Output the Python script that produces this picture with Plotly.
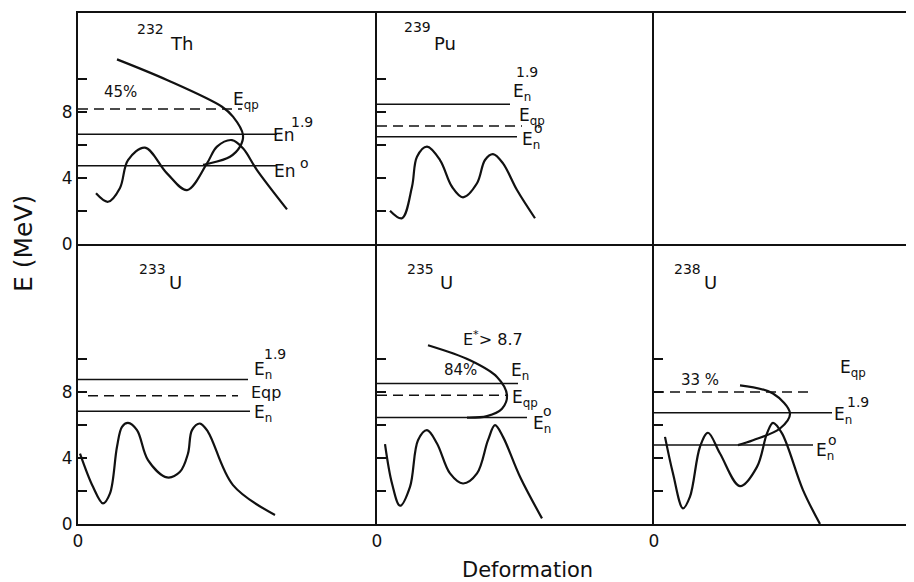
import plotly.graph_objects as go

FONT = "DejaVu Sans"
BLACK = "#111111"

# ---------------- data (deformation in arbitrary units, energy in MeV) ----------------
# 232Th
th_barrier_x = [0.18, 0.30, 0.42, 0.50, 0.67, 0.89, 1.09, 1.29, 1.39, 1.54, 1.65, 1.79, 2.09]
th_barrier_e = [3.07, 2.56, 3.40, 5.09, 5.84, 4.28, 3.27, 4.89, 5.90, 6.30, 5.80, 4.48, 2.10]
th_nose_x = [0.39, 0.89, 1.44, 1.55, 1.65, 1.62, 1.52, 1.29, 1.25]
th_nose_e = [11.19, 9.94, 8.32, 7.72, 6.60, 5.90, 5.29, 4.85, 4.80]
th_levels = {"Eqp": 8.18, "En19": 6.65, "En0": 4.75}

# 239Pu
pu_barrier_x = [0.13, 0.25, 0.35, 0.40, 0.50, 0.63, 0.75, 0.86, 1.00, 1.08, 1.16, 1.26, 1.40, 1.58]
pu_barrier_e = [2.02, 1.56, 3.47, 5.29, 5.90, 5.09, 3.47, 2.83, 3.68, 5.09, 5.45, 4.89, 3.27, 1.56]
pu_levels = {"En19": 8.47, "Eqp": 7.15, "En0": 6.50}

# 233U
u233_barrier_x = [0.02, 0.15, 0.25, 0.32, 0.39, 0.44, 0.50, 0.59, 0.70, 0.89, 1.02, 1.10, 1.14, 1.22, 1.30, 1.55, 1.97]
u233_barrier_e = [4.28, 2.26, 1.25, 1.86, 4.69, 5.90, 6.14, 5.70, 3.88, 2.83, 3.17, 4.28, 5.70, 6.10, 5.60, 2.36, 0.55]
u233_levels = {"En19": 8.77, "Eqp": 7.78, "En": 6.85}

# 235U
u235_barrier_x = [0.08, 0.15, 0.23, 0.33, 0.41, 0.50, 0.60, 0.73, 0.86, 1.00, 1.11, 1.18, 1.26, 1.43, 1.65]
u235_barrier_e = [4.85, 2.46, 1.11, 2.26, 5.09, 5.70, 4.89, 3.07, 2.46, 3.07, 5.09, 6.00, 5.29, 2.87, 0.34]
u235_nose_x = [0.51, 0.93, 1.20, 1.30, 1.25, 1.10, 0.90]
u235_nose_e = [10.85, 9.94, 8.93, 7.82, 7.00, 6.55, 6.46]
u235_levels = {"En": 8.53, "Eqp": 7.82, "En0": 6.46}

# 238U
u238_barrier_x = [0.11, 0.19, 0.29, 0.36, 0.46, 0.54, 0.66, 0.86, 1.03, 1.13, 1.19, 1.28, 1.49, 1.66]
u238_barrier_e = [5.29, 3.07, 0.95, 1.66, 4.69, 5.54, 4.28, 2.30, 3.47, 5.50, 6.14, 5.50, 2.06, 0.00]
u238_nose_x = [0.86, 1.19, 1.36, 1.26, 0.99, 0.84]
u238_nose_e = [8.42, 7.92, 6.71, 5.80, 5.09, 4.79]
u238_levels = {"Eqp": 8.02, "En19": 6.75, "En0": 4.79}

y_ticks = [0, 2, 4, 6, 8, 10]
y_ticktext = ["0", "", "4", "", "8", ""]

# ---------------- layout geometry ----------------
# the page body has an 8px margin, so the figure is offset by 8px
OFF = 8
W, H = 914 - OFF, 582 - OFF
ML, MR, MT, MB = 78 - OFF, 0, 13 - OFF, 58
PW, PH = W - ML - MR, H - MT - MB
xd = [(0, 299 / PW), (299 / PW, 576 / PW), (576 / PW, 1.0)]
yd_bottom = (0, 280 / PH)
yd_top = (280 / PH, 1.0)
xr = [2.99, 2.77, 2.60]


def paper_x(px):
    return (px - OFF - ML) / PW


def paper_y(py):
    return (H - MB - (py - OFF)) / PH


fig = go.Figure()

# axis suffixes: top row 1..3, bottom row 4..6
panels = {
    1: (0, "top"), 2: (1, "top"), 3: (2, "top"),
    4: (0, "bottom"), 5: (1, "bottom"), 6: (2, "bottom"),
}
for k, (col, row) in panels.items():
    xa = "xaxis" if k == 1 else f"xaxis{k}"
    ya = "yaxis" if k == 1 else f"yaxis{k}"
    ylim = 14 if row == "top" else 17
    fig.layout[xa] = dict(
        domain=xd[col], range=[0, xr[col]], anchor="y" if k == 1 else f"y{k}",
        showline=True, linewidth=2.2, linecolor=BLACK, mirror=(row == "top"),
        showgrid=False, zeroline=False, ticks="",
        tickvals=[0] if row == "bottom" else [], ticktext=["0"] if row == "bottom" else [],
        showticklabels=(row == "bottom"),
        tickfont=dict(family=FONT, size=17, color=BLACK),
        fixedrange=True,
    )
    fig.layout[ya] = dict(
        domain=yd_top if row == "top" else yd_bottom, range=[0, ylim],
        anchor="x" if k == 1 else f"x{k}",
        showline=True, linewidth=2.2, linecolor=BLACK, mirror=False,
        showgrid=False, zeroline=False,
        ticks="inside" if k != 3 else "", ticklen=9, tickwidth=1.5, tickcolor=BLACK,
        tickvals=y_ticks, ticktext=y_ticktext,
        showticklabels=(col == 0),
        tickfont=dict(family=FONT, size=17, color=BLACK),
        fixedrange=True,
    )


def ax(k):
    return ("x", "y") if k == 1 else (f"x{k}", f"y{k}")


def curve(k, xs, es, width=2.2):
    xa, ya = ax(k)
    fig.add_trace(go.Scatter(x=xs, y=es, mode="lines", xaxis=xa, yaxis=ya,
                             line=dict(color=BLACK, width=width, shape="spline", smoothing=1.0),
                             showlegend=False, hoverinfo="skip"))


def level(k, e, x0, x1, dashed=False):
    xa, ya = ax(k)
    fig.add_trace(go.Scatter(x=[x0, x1], y=[e, e], mode="lines", xaxis=xa, yaxis=ya,
                             line=dict(color=BLACK, width=1.5, dash="10px,6px" if dashed else "solid"),
                             showlegend=False, hoverinfo="skip"))


def label(k, x, e, text, size=17):
    xa, ya = ax(k)
    fig.add_annotation(x=x, y=e, xref=xa, yref=ya, text=text, showarrow=False,
                       font=dict(family=FONT, size=size, color=BLACK),
                       xanchor="center", yanchor="middle")


# 232Th (panel 1)
level(1, th_levels["Eqp"], 0.0, 1.64, dashed=True)
level(1, th_levels["En19"], 0.0, 1.99)
level(1, th_levels["En0"], 0.0, 1.99)
curve(1, th_barrier_x, th_barrier_e)
curve(1, th_nose_x, th_nose_e)
label(1, 0.72, 13.05, "232", 14)
label(1, 1.03, 12.15, "Th", 18)
label(1, 0.42, 9.2, "45%", 15)
label(1, 1.68, 8.7, "E<sub>qp</sub>", 17)
label(1, 2.06, 6.6, "En", 17)
label(1, 2.24, 7.4, "1.9", 14)
label(1, 2.07, 4.45, "En", 17)
label(1, 2.26, 4.9, "o", 14)

# 239Pu (panel 2)
level(2, pu_levels["En19"], 0.0, 1.33)
level(2, pu_levels["Eqp"], 0.0, 1.45, dashed=True)
level(2, pu_levels["En0"], 0.0, 1.40)
curve(2, pu_barrier_x, pu_barrier_e)
label(2, 0.40, 13.15, "239", 14)
label(2, 0.68, 12.15, "Pu", 18)
label(2, 1.50, 10.4, "1.9", 14)
label(2, 1.45, 9.2, "E<sub>n</sub>", 17)
label(2, 1.55, 7.7, "E<sub>qp</sub>", 17)
label(2, 1.61, 7.05, "o", 14)
label(2, 1.54, 6.3, "E<sub>n</sub>", 17)

# empty top-right panel (needs a trace so its frame is drawn)
fig.add_trace(go.Scatter(x=[None], y=[None], mode="lines", xaxis="x3", yaxis="y3",
                         showlegend=False, hoverinfo="skip"))

# 233U (panel 4)
level(4, u233_levels["En19"], 0.0, 1.70)
level(4, u233_levels["Eqp"], 0.10, 1.60, dashed=True)
level(4, u233_levels["En"], 0.0, 1.72)
curve(4, u233_barrier_x, u233_barrier_e)
label(4, 0.74, 15.5, "233", 14)
label(4, 0.97, 14.65, "U", 18)
label(4, 1.97, 10.35, "1.9", 14)
label(4, 1.85, 9.3, "E<sub>n</sub>", 17)
label(4, 1.88, 8.0, "Eqp", 16)
label(4, 1.85, 6.7, "E<sub>n</sub>", 17)

# 235U (panel 5)
level(5, u235_levels["En"], 0.0, 1.41)
level(5, u235_levels["Eqp"], 0.0, 1.31, dashed=True)
level(5, u235_levels["En0"], 0.0, 1.50)
curve(5, u235_barrier_x, u235_barrier_e)
curve(5, u235_nose_x, u235_nose_e)
label(5, 0.43, 15.5, "235", 14)
label(5, 0.69, 14.65, "U", 18)
label(5, 1.16, 11.25, "E<sup>*</sup>> 8.7", 16)
label(5, 0.83, 9.37, "84%", 15)
label(5, 1.43, 9.23, "E<sub>n</sub>", 17)
label(5, 1.48, 7.62, "E<sub>qp</sub>", 17)
label(5, 1.70, 6.85, "o", 14)
label(5, 1.65, 6.06, "E<sub>n</sub>", 17)

# 238U (panel 6)
level(6, u238_levels["Eqp"], 0.0, 1.59, dashed=True)
level(6, u238_levels["En19"], 0.0, 1.78)
level(6, u238_levels["En0"], 0.0, 1.59)
curve(6, u238_barrier_x, u238_barrier_e)
curve(6, u238_nose_x, u238_nose_e)
label(6, 0.33, 15.5, "238", 14)
label(6, 0.56, 14.65, "U", 18)
label(6, 1.99, 9.43, "E<sub>qp</sub>", 17)
label(6, 0.46, 8.73, "33 %", 15)
label(6, 1.89, 6.6, "E<sub>n</sub>", 17)
label(6, 2.04, 7.41, "1.9", 14)
label(6, 1.71, 4.38, "E<sub>n</sub>", 17)
label(6, 1.78, 5.13, "o", 14)

# axis titles
fig.add_annotation(x=paper_x(23), y=paper_y(244), xref="paper", yref="paper",
                   text="E (MeV)", textangle=-90, showarrow=False,
                   font=dict(family=FONT, size=25, color=BLACK),
                   xanchor="center", yanchor="middle")
fig.add_annotation(x=paper_x(527), y=paper_y(570), xref="paper", yref="paper",
                   text="Deformation", showarrow=False,
                   font=dict(family=FONT, size=21, color=BLACK),
                   xanchor="center", yanchor="middle")

fig.update_layout(
    width=W, height=H,
    margin=dict(l=ML, r=MR, t=MT, b=MB, pad=0),
    paper_bgcolor="white", plot_bgcolor="white",
    showlegend=False,
)

fig.write_html("out.html")
